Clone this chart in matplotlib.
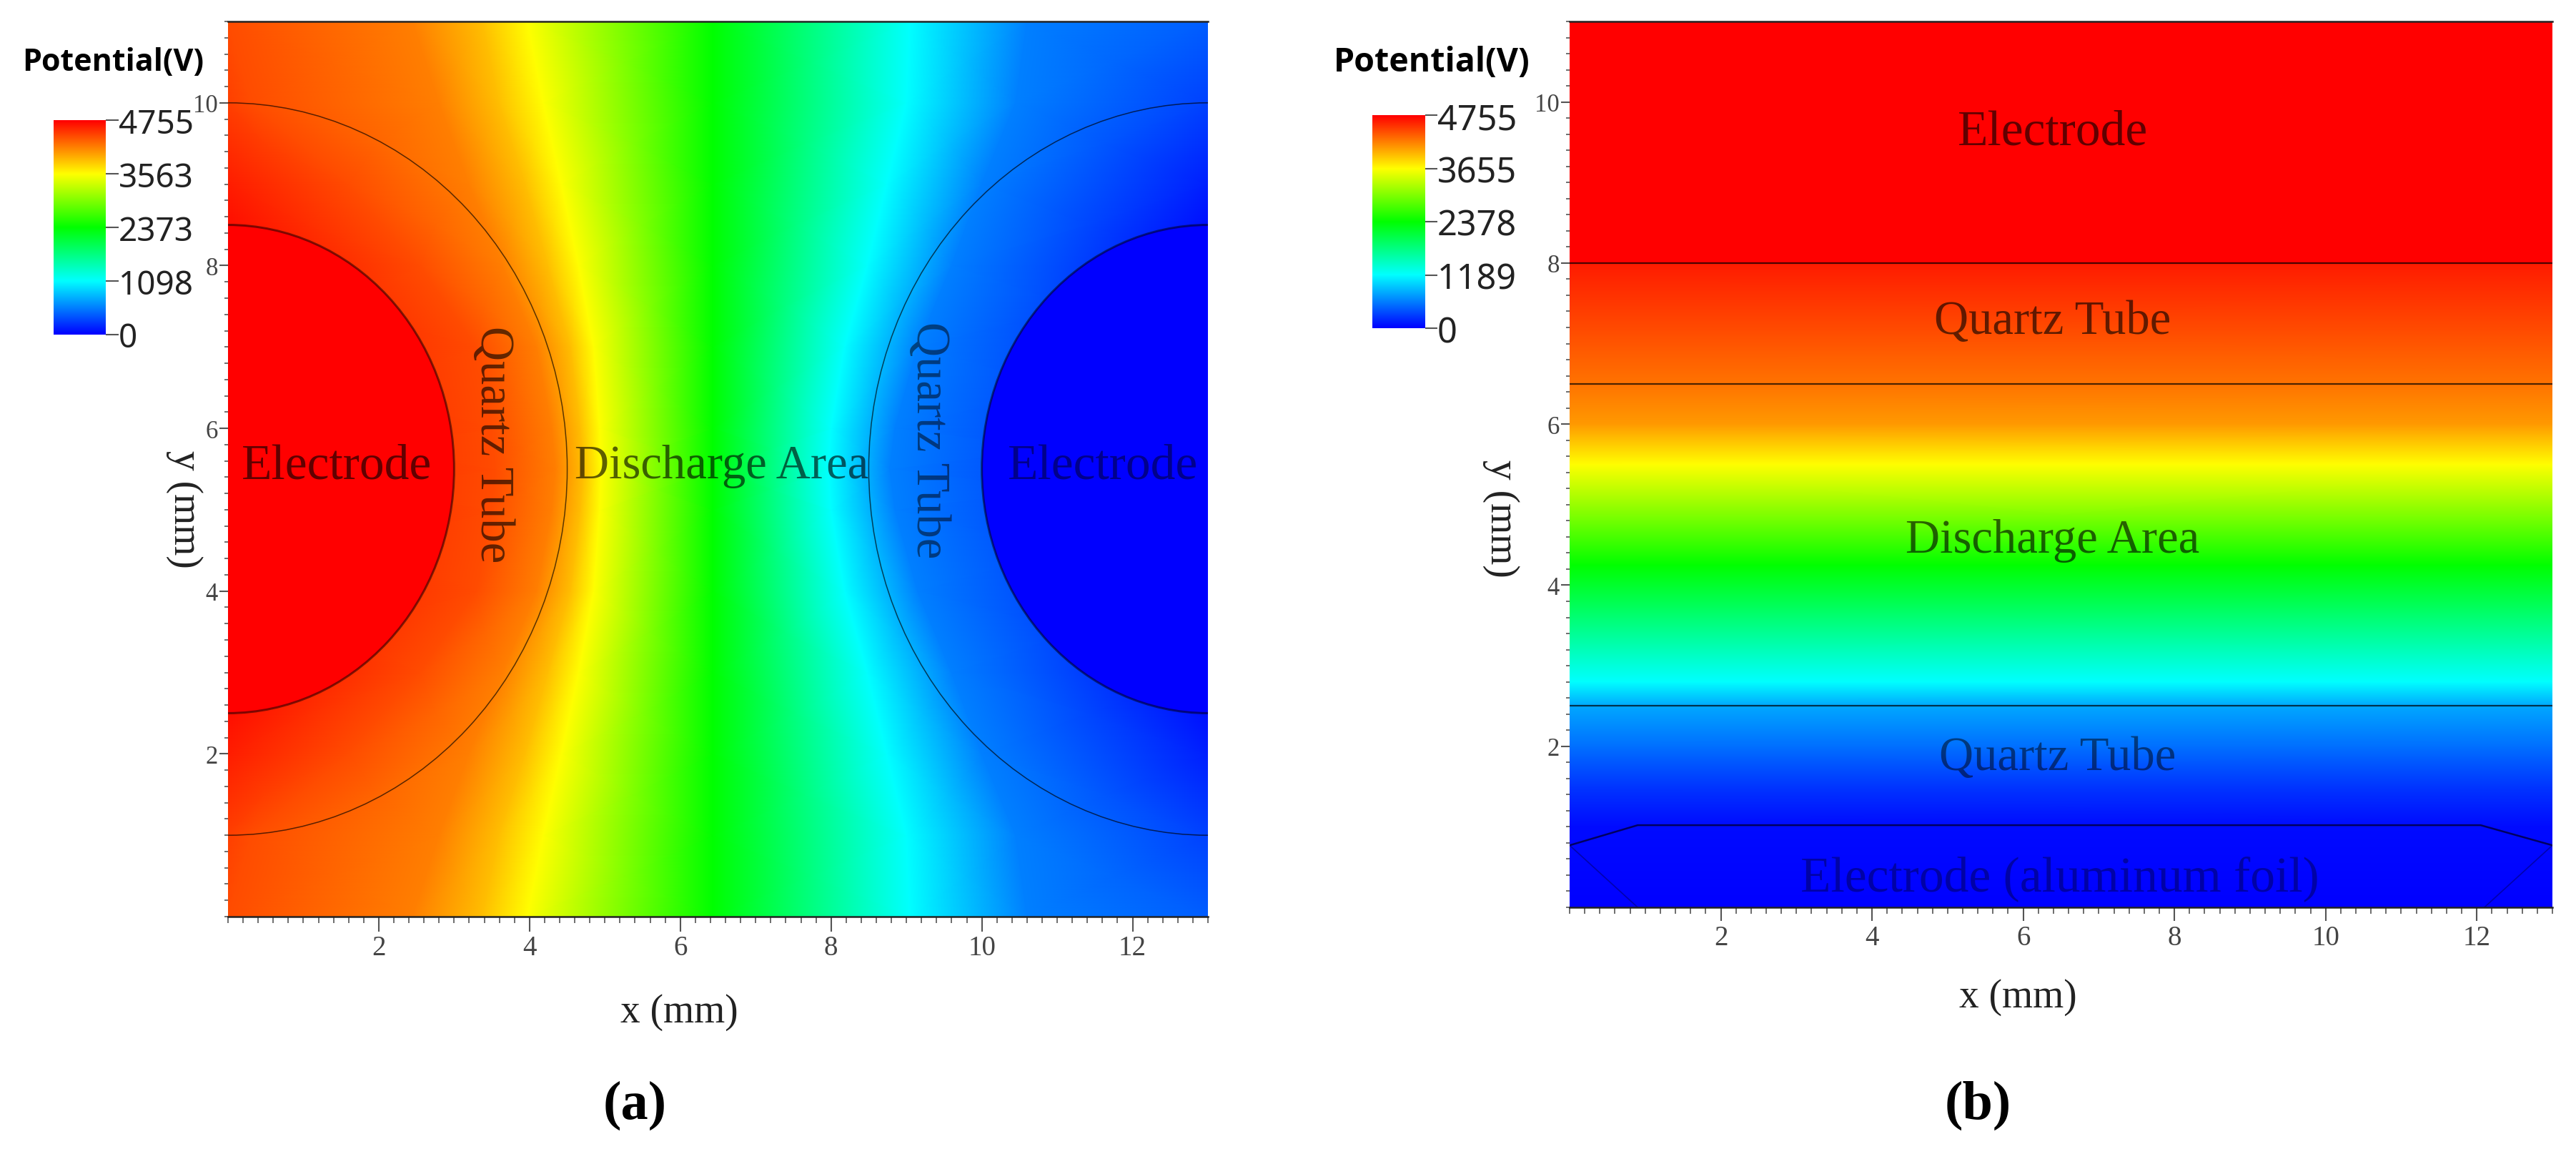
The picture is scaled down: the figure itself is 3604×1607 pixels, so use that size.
import numpy as np
import matplotlib
matplotlib.use('Agg')
import matplotlib.pyplot as plt
from matplotlib.colors import LinearSegmentedColormap
from matplotlib.patches import Circle

W, H = 3605, 1608

# panel a: x position (mm) of each potential level, row by row
rows_a = [0, 1, 2, 3, 4, 5, 5.5, 6, 7, 8, 9, 10, 11]
left_edge_v = [4400, 4460, 4620, 4755, 4755, 4755, 4755, 4755, 4755, 4755, 4620, 4460, 4400]
x_4400 = [0.01, 0.3, 1.6, 2.55, 3.3, 3.5, 3.55, 3.5, 3.3, 2.55, 1.6, 0.3, 0.01]
x_4159 = [2.45, 2.8, 3.2, 3.65, 4.1, 4.3, 4.35, 4.3, 4.1, 3.65, 3.2, 2.8, 2.45]
x_3860 = [3.38, 3.6, 3.95, 4.25, 4.55, 4.68, 4.72, 4.68, 4.55, 4.25, 3.95, 3.6, 3.38]
x_3563 = [3.97, 4.18, 4.42, 4.65, 4.85, 4.93, 4.95, 4.93, 4.85, 4.65, 4.42, 4.18, 3.97]
x_2373 = [6.43, 6.43, 6.43, 6.43, 6.43, 6.43, 6.43, 6.43, 6.43, 6.43, 6.43, 6.43, 6.43]
x_1098 = [9.05, 9.0, 8.74, 8.48, 8.18, 8.0, 7.97, 8.0, 8.18, 8.48, 8.74, 9.0, 9.05]
x_549 = [10.6, 10.45, 10.0, 9.6, 9.15, 8.85, 8.78, 8.85, 9.15, 9.6, 10.0, 10.45, 10.6]
right_edge_v = [400, 280, 130, 0, 0, 0, 0, 0, 0, 0, 130, 280, 400]
level_v = [4400, 4159, 3860, 3563, 2373, 1098, 549]

# panel b: potential against height
rows_b = [0, 1, 1.5, 2, 2.5, 2.8, 4.25, 5.5, 6, 6.5, 8, 8, 11]
v_b = [0, 50, 250, 520, 780, 1189, 2378, 3655, 4095, 4260, 4640, 4755, 4755]

ticks_a = [0, 1098, 2373, 3563, 4755]
ticks_b = [0, 1189, 2378, 3655, 4755]

# boundaries
centers_y = 5.5
electrode_r = 3.0
tube_r = 4.5
lines_b = [8, 6.5, 2.5]
foil_x = [0, 0.9, 12.05, 13]
foil_y = [0.77, 1.02, 1.02, 0.77]
foil_low_x = [[0, 0.9], [13, 12.1]]
foil_low_y = [[0.77, 0], [0.77, 0]]

xticks = [2, 4, 6, 8, 10, 12]
yticks = [2, 4, 6, 8, 10]

rainbow = LinearSegmentedColormap.from_list(
    'rainbow5', ['#0000ff', '#00ffff', '#00ff00', '#ffff00', '#ff0000'], N=1024)
SERIF = 'Liberation Serif'
SANS = 'Noto Sans'
GREY = '#555555'


def box(x0, y0, x1, y1):
    return fig.add_axes([x0 / W, 1 - y1 / H, (x1 - x0) / W, (y1 - y0) / H])


def put(x, y, s, size, **kw):
    kw.setdefault('family', SERIF)
    kw.setdefault('color', 'black')
    kw.setdefault('ha', 'center')
    kw.setdefault('va', 'center')
    fig.text(x / W, 1 - y / H, s, fontsize=size, **kw)


def style_axes(ax, xlen, ylen):
    ax.set_xlim(0, 13)
    ax.set_ylim(0, 11)
    ax.set_xticks(xticks)
    ax.set_yticks(yticks)
    ax.set_xticks(np.arange(0, 13.01, 0.2), minor=True)
    ax.set_yticks(np.arange(0, 11.01, 0.2), minor=True)
    ax.tick_params(axis='x', which='major', length=xlen, width=1.5, color=GREY,
                   labelsize=28, labelcolor='#444444', pad=3, labelfontfamily=SERIF)
    ax.tick_params(axis='x', which='minor', length=xlen * 0.45, width=1.2, color=GREY)
    ax.tick_params(axis='y', which='major', length=ylen, width=1.5, color=GREY,
                   labelsize=25, labelcolor='#444444', pad=1, labelfontfamily=SERIF)
    ax.tick_params(axis='y', which='minor', length=ylen * 0.4, width=1.2, color=GREY)
    for s in ['left', 'right']:
        ax.spines[s].set_visible(False)
    for s in ['top', 'bottom']:
        ax.spines[s].set_linewidth(1.8)
        ax.spines[s].set_color('#222222')


def colorbar(x0, y0, x1, y1, labels, size, tlen):
    cax = box(x0, y0, x1, y1)
    cax.imshow(np.linspace(1, 0, 512).reshape(-1, 1), cmap=rainbow, vmin=0, vmax=1,
               aspect='auto', extent=[0, 1, 0, 4])
    cax.set_xticks([])
    cax.yaxis.tick_right()
    cax.set_yticks(range(5))
    cax.set_yticklabels(labels, family=SANS, fontsize=size, color='#222222')
    cax.tick_params(axis='y', length=tlen, width=1.5, color=GREY, pad=0)
    for s in cax.spines.values():
        s.set_visible(False)


fig = plt.figure(figsize=(W / 100, H / 100), dpi=100, facecolor='white')

# ---- panel a
ax = box(319, 31, 1690, 1283)
X = np.column_stack([np.zeros(13), x_4400, x_4159, x_3860, x_3563, x_2373, x_1098, x_549, np.full(13, 13.0)])
Y = np.tile(np.array(rows_a).reshape(-1, 1), (1, X.shape[1]))
V = np.column_stack([left_edge_v] + [np.full(13, v) for v in level_v] + [right_edge_v])
ax.pcolormesh(X, Y, np.interp(V, ticks_a, np.linspace(0, 1, 5)), cmap=rainbow, vmin=0, vmax=1,
              shading='gouraud')
for cx, col in [(0, '#ff0000'), (13, '#0000ff')]:
    ax.add_patch(Circle((cx, centers_y), electrode_r, facecolor=col, edgecolor='none', zorder=2))
    ax.add_patch(Circle((cx, centers_y), electrode_r, facecolor='none', edgecolor='black',
                        alpha=0.5, lw=2.2, zorder=3))
    ax.add_patch(Circle((cx, centers_y), tube_r, facecolor='none', edgecolor='black',
                        alpha=0.65, lw=1.1, zorder=3))
style_axes(ax, 15, 9)
colorbar(75, 169, 148, 469, ticks_a, 33, 13)
put(158, 87, 'Potential(V)', 31, family='Open Sans', weight='bold')

# ---- panel b
ax2 = box(2196, 31, 3571, 1270)
vb = np.interp(v_b, ticks_b, np.linspace(0, 1, 5))
ax2.pcolormesh([0, 13], rows_b, np.column_stack([vb, vb]), cmap=rainbow, vmin=0, vmax=1,
               shading='gouraud')
for y in lines_b:
    ax2.axhline(y, color='black', alpha=0.7, lw=1.6)
ax2.plot(foil_x, foil_y, color='#000060', lw=1.8)
for fx, fy in zip(foil_low_x, foil_low_y):
    ax2.plot(fx, fy, color='#000060', alpha=0.5, lw=1.2)
style_axes(ax2, 14, 9)
colorbar(1920, 162, 1994, 460, ticks_b, 35, 12)
put(2003, 87, 'Potential(V)', 33.5, family='Open Sans', weight='bold')

# ---- region labels
dark = dict(color='black', alpha=0.62)
put(471, 653, 'Electrode', 50, **dark)
put(1010, 653, 'Discharge Area', 48, **dark)
put(1543, 653, 'Electrode', 50, color='black', alpha=0.45)
put(690, 622, 'Quartz Tube', 48, rotation=270, **dark)
put(1300, 616, 'Quartz Tube', 48, rotation=270, color='black', alpha=0.5)

put(2872, 186, 'Electrode', 50, **dark)
put(2872, 450, 'Quartz Tube', 48, **dark)
put(2872, 757, 'Discharge Area', 48, **dark)
put(2879, 1061, 'Quartz Tube', 48, color='black', alpha=0.5)
put(2882, 1229, 'Electrode (aluminum foil)', 50, color='black', alpha=0.35)

# ---- axis titles and captions
put(950, 1416, 'x (mm)', 40, color='#222222')
put(258, 712, 'y (mm)', 40, rotation=270, color='#222222')
put(2823, 1395, 'x (mm)', 40, color='#222222')
put(2100, 725, 'y (mm)', 40, rotation=270, color='#222222')
put(888, 1546, '(a)', 55, weight='bold')
put(2767, 1546, '(b)', 55, weight='bold')

fig.savefig('out.png', dpi=100)
